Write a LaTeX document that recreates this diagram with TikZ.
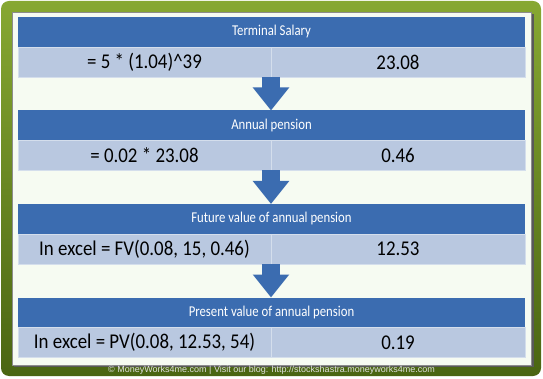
\documentclass[tikz,border=0pt]{standalone}
\usepackage{fontspec}
\setmainfont{Carlito}
\newfontfamily\titlefont[FakeStretch=0.85]{Carlito}
\newfontfamily\cellfont[FakeStretch=0.9]{Carlito}
\newfontfamily\footfont{Liberation Sans}
\definecolor{barblue}{HTML}{3B6CB0}
\definecolor{cellblue}{HTML}{B9C8E0}
\definecolor{celledge}{HTML}{D4DEEC}
\definecolor{paper}{HTML}{F6FBF2}
\definecolor{greentop}{HTML}{87A832}
\definecolor{greenbot}{HTML}{4A6512}
\usetikzlibrary{arrows.meta}
\begin{document}
\begin{tikzpicture}[x=1pt, y=-1pt,
	title/.style={fill=barblue, text=white, minimum width=507pt, minimum height=30pt, inner sep=0pt, outer sep=0pt, font=\titlefont\fontsize{15}{17}\selectfont},
	cell/.style={fill=cellblue, draw=celledge, line width=0.8pt, minimum height=30pt, inner sep=0pt, outer sep=0pt, font=\cellfont\fontsize{21}{24}\selectfont},
	flow/.style={barblue, line width=18pt, -{Triangle[width=35pt, length=23pt]}}]
	\useasboundingbox (0,0) rectangle (543,379);
		% Frame
		\shade[top color=greentop, bottom color=greenbot, rounded corners=8pt] (1,1) rectangle (541,376);
		\fill[black!65] (14,14) rectangle (533.5,366.5);
		\filldraw[fill=paper, draw=black!45, line width=0.6pt] (12.5,12.5) rectangle (531.5,365);
		% Terminal salary
		\node[title] (t1) at (271.5,32) {Terminal Salary};
		\node[cell, minimum width=253pt] (l1) at (144.5,62) {= 5 * (1.04)\^{}39};
		\node[cell, minimum width=254pt] (r1) at (398,62) {23.08};
		% Annual pension
		\node[title] (t2) at (271.5,125.5) {Annual pension};
		\node[cell, minimum width=253pt] (l2) at (144.5,155.5) {= 0.02 * 23.08};
		\node[cell, minimum width=254pt] (r2) at (398,155.5) {0.46};
		% Future value
		\node[title] (t3) at (271.5,219) {Future value of annual pension};
		\node[cell, minimum width=253pt] (l3) at (144.5,249) {In excel = FV(0.08, 15, 0.46)};
		\node[cell, minimum width=254pt] (r3) at (398,249) {12.53};
		% Present value
		\node[title] (t4) at (271.5,312.5) {Present value of annual pension};
		\node[cell, minimum width=253pt] (l4) at (144.5,342.5) {In excel = PV(0.08, 12.53, 54)};
		\node[cell, minimum width=254pt] (r4) at (398,342.5) {0.19};
		% Arrows
		\draw[flow] (l1.south east) -- (l1.south east |- t2.north);
		\draw[flow] (l2.south east) -- (l2.south east |- t3.north);
		\draw[flow] (l3.south east) -- (l3.south east |- t4.north);
		% Footer
		\node[text=black!12, font=\footfont\fontsize{9}{10}\selectfont] (foot) at (271.5,370) {\textcopyright{} MoneyWorks4me.com | Visit our blog: http://stockshastra.moneyworks4me.com};
	\end{tikzpicture}
\end{document}
